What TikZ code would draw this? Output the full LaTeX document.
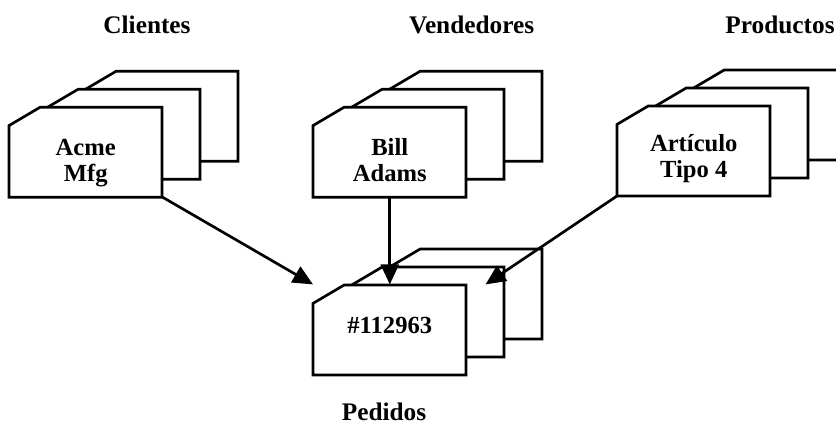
\documentclass[tikz,border=0pt]{standalone}
\usepackage{fontspec}
\setmainfont{Liberation Serif}
\usetikzlibrary{arrows.meta,positioning,calc}

\tikzset{
  card/.style={draw, line width=1.9pt, fill=white, line join=miter},
  cardbox/.style={minimum width=3.825cm, minimum height=2.25cm, inner sep=0pt},
  cardtext/.style={align=center, inner sep=0pt, font=\bfseries\fontsize{17.5}{18.5}\selectfont},
  stacktitle/.style={font=\bfseries\fontsize{18}{18}\selectfont},
  link/.style={line width=1.9pt, -{Triangle[length=0.5cm,width=0.45cm]}}
}

% stack of three cards, #2 = lower left corner of the front one
\newcommand{\cardstack}[4]{%
  \foreach \k in {2,1,0}
    \filldraw[card] ($(#2)+(\k*0.95,\k*0.45)$) -- ++(0,1.79) -- ++(0.78,0.46)
      -- ++(3.045,0) -- ++(0,-2.25) -- cycle;
  \node[cardbox, anchor=south west, label={[cardtext, yshift=#4]center:#3}] (#1) at (#2) {};
}

\begin{document}
\begin{tikzpicture}
    \clip (0,0) rectangle (20.9,10.75);

    % Stacks
    \cardstack{acme}{0.225,5.82}{Acme\\Mfg}{-0.27cm}
    \cardstack{bill}{7.825,5.82}{Bill\\Adams}{-0.2cm}
    \cardstack{articulo}{15.425,5.85}{Artículo\\Tipo 4}{-0.2cm}
    \cardstack{pedido}{7.825,1.375}{\#112963}{0.11cm}

    % Titles
    \node[stacktitle] (clientes) at (3.675,10.125) {Clientes};
    \node[stacktitle] (vendedores) at (11.79,10.125) {Vendedores};
    \node[stacktitle] (productos) at (19.5,10.125) {Productos};
    \node[stacktitle] (pedidos) at (9.6,0.45) {Pedidos};

    % Links
    \draw[link] (acme.south east) -- (pedido.north west);
    \draw[link] (bill.south) -- (pedido.north);
    \draw[link] (articulo.south west) -- ([xshift=0.475cm]pedido.north east);
\end{tikzpicture}
\end{document}
